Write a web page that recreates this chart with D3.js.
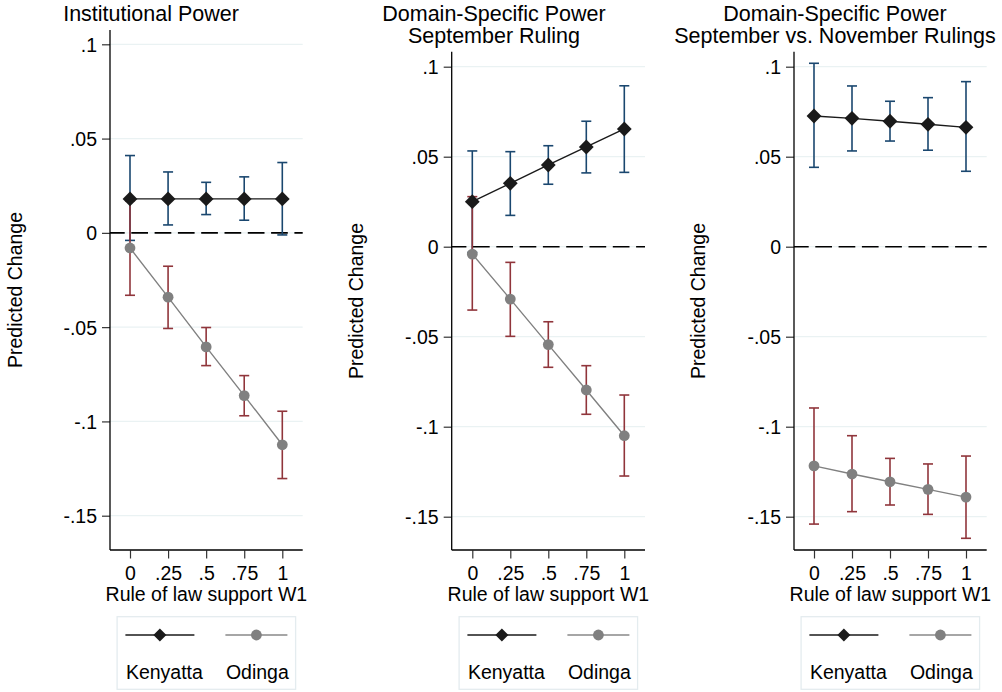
<!DOCTYPE html>
<html>
<head>
<meta charset="utf-8">
<script src="https://cdn.jsdelivr.net/npm/d3@7/dist/d3.min.js"></script>
<style>
  html, body { margin: 0; padding: 0; background: #fff; }
  svg { display: block; font-family: "Liberation Sans", Arial, Helvetica, sans-serif; }
</style>
</head>
<body>
<svg id="chart" width="1002" height="692"></svg>
<script>
// ---------------- DATA ----------------
const xVals = [0, 0.25, 0.5, 0.75, 1];
const xTickLabels = ["0", ".25", ".5", ".75", "1"];
const yTicks = [-0.15, -0.1, -0.05, 0, 0.05, 0.1];
const yTickLabels = ["-.15", "-.1", "-.05", "0", ".05", ".1"];
const xAxisTitle = "Rule of law support W1";
const yAxisTitle = "Predicted Change";
const seriesNames = ["Kenyatta", "Odinga"];
const panelTitles = [
  ["Institutional Power"],
  ["Domain-Specific Power", "September Ruling"],
  ["Domain-Specific Power", "September vs. November Rulings"]
];

// Panel 1: Institutional Power
const kenyattaEst1 = [0.018, 0.018, 0.018, 0.018, 0.018];
const kenyattaLo1  = [-0.004, 0.0042, 0.0097, 0.0067, -0.0011];
const kenyattaHi1  = [0.041, 0.0323, 0.0268, 0.0297, 0.0373];
const odingaEst1   = [-0.008, -0.0341, -0.0605, -0.0863, -0.1124];
const odingaLo1    = [-0.0331, -0.0507, -0.0704, -0.0970, -0.1303];
const odingaHi1    = [0.017, -0.0177, -0.0502, -0.0757, -0.0946];

// Panel 2: Domain-Specific Power, September Ruling
const kenyattaEst2 = [0.025, 0.0352, 0.0454, 0.0554, 0.0654];
const kenyattaLo2  = [-0.0032, 0.0174, 0.0347, 0.041, 0.0413];
const kenyattaHi2  = [0.0532, 0.0528, 0.0561, 0.0697, 0.0894];
const odingaEst2   = [-0.0041, -0.0291, -0.0544, -0.0796, -0.105];
const odingaLo2    = [-0.0352, -0.0498, -0.067, -0.0931, -0.1274];
const odingaHi2    = [0.0278, -0.0087, -0.0417, -0.0661, -0.0824];

// Panel 3: Domain-Specific Power, September vs. November Rulings
const kenyattaEst3 = [0.0726, 0.0713, 0.0697, 0.068, 0.0663];
const kenyattaLo3  = [0.0441, 0.0532, 0.0587, 0.0536, 0.0419];
const kenyattaHi3  = [0.1019, 0.0893, 0.0808, 0.0828, 0.0917];
const odingaEst3   = [-0.1218, -0.1263, -0.1306, -0.1348, -0.1391];
const odingaLo3    = [-0.1541, -0.1472, -0.1435, -0.1487, -0.162];
const odingaHi3    = [-0.0896, -0.105, -0.1176, -0.1207, -0.1163];

// ---------------- LAYOUT ----------------
const layouts = [
  {left: 110, right: 302.7, top: 30, bottom: 550, x0: 130, x1: 282.3, yHi: 44.3, yLo: 515.7,
   titleX: 151, titleY: [20.7], yTitleX: 22, yTitleY: 290},
  {left: 451.7, right: 645, top: 51.7, bottom: 550, x0: 472.3, x1: 624.3, yHi: 66.7, yLo: 516.7,
   titleX: 494, titleY: [20.7, 43], yTitleX: 363.3, yTitleY: 301},
  {left: 794, right: 986.7, top: 51.7, bottom: 550, x0: 814, x1: 966, yHi: 66.7, yLo: 516.7,
   titleX: 835, titleY: [20.7, 43], yTitleX: 705, yTitleY: 301}
];

const panelData = [
  {k: [kenyattaEst1, kenyattaLo1, kenyattaHi1], o: [odingaEst1, odingaLo1, odingaHi1]},
  {k: [kenyattaEst2, kenyattaLo2, kenyattaHi2], o: [odingaEst2, odingaLo2, odingaHi2]},
  {k: [kenyattaEst3, kenyattaLo3, kenyattaHi3], o: [odingaEst3, odingaLo3, odingaHi3]}
];

const C = {
  kLine: "#1a1a1a", kCI: "#1a476f",
  oLine: "#808080", oCI: "#90353b",
  grid: "#eaf2f3", axis: "#000", tick: "#333", text: "#000", legendBorder: "#e4ecef"
};
const FS = 19.5, TFS = 21.5;

const svg = d3.select("#chart");

function diamondPath(cx, cy, h) {
  return `M${cx},${cy - h}L${cx + h},${cy}L${cx},${cy + h}L${cx - h},${cy}Z`;
}

panelData.forEach((pd, i) => {
  const L = layouts[i];
  const g = svg.append("g");
  const x = d3.scaleLinear().domain([0, 1]).range([L.x0, L.x1]);
  const y = d3.scaleLinear().domain([-0.15, 0.1]).range([L.yLo, L.yHi]);

  // gridlines
  g.selectAll(".grid").data(yTicks).enter().append("line")
    .attr("x1", L.left).attr("x2", L.right)
    .attr("y1", d => y(d)).attr("y2", d => y(d))
    .attr("stroke", C.grid).attr("stroke-width", 1.3);

  // zero dashed line
  g.append("line")
    .attr("x1", L.left).attr("x2", L.right)
    .attr("y1", y(0)).attr("y2", y(0))
    .attr("stroke", "#000").attr("stroke-width", 1.6)
    .attr("stroke-dasharray", "16.7,6.6").attr("stroke-dashoffset", 2);

  // y axis
  const yAxis = d3.axisLeft(y).tickValues(yTicks).tickSize(8).tickPadding(5)
    .tickFormat((d, j) => yTickLabels[j]);
  const ya = g.append("g").attr("transform", `translate(${L.left},0)`).call(yAxis);
  ya.select(".domain").remove();
  ya.selectAll(".tick line").attr("stroke", C.tick).attr("stroke-width", 1.2);
  ya.selectAll(".tick text").attr("font-size", FS).attr("fill", C.text)
    .attr("font-family", "Liberation Sans, Arial, sans-serif").attr("dy", "0.36em");
  g.append("line").attr("x1", L.left).attr("x2", L.left).attr("y1", L.top).attr("y2", L.bottom)
    .attr("stroke", C.axis).attr("stroke-width", 1.3);

  // x axis
  const xAxis = d3.axisBottom(x).tickValues(xVals).tickSize(8).tickPadding(7)
    .tickFormat((d, j) => xTickLabels[j]);
  const xa = g.append("g").attr("transform", `translate(0,${L.bottom + 0.5})`).call(xAxis);
  xa.select(".domain").remove();
  xa.selectAll(".tick line").attr("stroke", C.tick).attr("stroke-width", 1.2);
  xa.selectAll(".tick text").attr("font-size", FS).attr("fill", C.text)
    .attr("font-family", "Liberation Sans, Arial, sans-serif").attr("dy", null).attr("y", 29);
  g.append("line").attr("x1", L.left).attr("x2", L.right).attr("y1", L.bottom).attr("y2", L.bottom)
    .attr("stroke", C.axis).attr("stroke-width", 1.3);

  // axis titles
  g.append("text").attr("x", (L.left + L.right) / 2).attr("y", 601)
    .attr("text-anchor", "middle").attr("font-size", FS).text(xAxisTitle);
  g.append("text").attr("transform", `translate(${L.yTitleX},${L.yTitleY}) rotate(-90)`)
    .attr("text-anchor", "middle").attr("font-size", FS).text(yAxisTitle);

  // panel title
  panelTitles[i].forEach((t, j) => {
    g.append("text").attr("x", L.titleX).attr("y", L.titleY[j])
      .attr("text-anchor", "middle").attr("font-size", TFS).text(t);
  });

  const capW = 5;
  function drawCI(arr, color) {
    const [est, lo, hi] = arr;
    const rows = xVals.map((xv, j) => ({x: xv, lo: lo[j], hi: hi[j]}));
    const ci = g.append("g").attr("stroke", color).attr("stroke-width", 1.6).attr("fill", "none");
    ci.selectAll(".v").data(rows).enter().append("line")
      .attr("x1", d => x(d.x)).attr("x2", d => x(d.x))
      .attr("y1", d => y(d.lo)).attr("y2", d => y(d.hi));
    ci.selectAll(".t").data(rows).enter().append("line")
      .attr("x1", d => x(d.x) - capW).attr("x2", d => x(d.x) + capW)
      .attr("y1", d => y(d.hi)).attr("y2", d => y(d.hi));
    ci.selectAll(".b").data(rows).enter().append("line")
      .attr("x1", d => x(d.x) - capW).attr("x2", d => x(d.x) + capW)
      .attr("y1", d => y(d.lo)).attr("y2", d => y(d.lo));
  }
  drawCI(pd.k, C.kCI);
  drawCI(pd.o, C.oCI);

  const line = d3.line().x(d => x(d.x)).y(d => y(d.v));
  const kRows = xVals.map((xv, j) => ({x: xv, v: pd.k[0][j]}));
  const oRows = xVals.map((xv, j) => ({x: xv, v: pd.o[0][j]}));

  g.append("path").datum(kRows).attr("d", line).attr("fill", "none")
    .attr("stroke", C.kLine).attr("stroke-width", 1.4);
  g.selectAll(".kd").data(kRows).enter().append("path")
    .attr("d", d => diamondPath(x(d.x), y(d.v), 7.4)).attr("fill", C.kLine);

  g.append("path").datum(oRows).attr("d", line).attr("fill", "none")
    .attr("stroke", C.oLine).attr("stroke-width", 1.4);
  g.selectAll(".oc").data(oRows).enter().append("circle")
    .attr("cx", d => x(d.x)).attr("cy", d => y(d.v)).attr("r", 5.4).attr("fill", C.oLine);

  // legend
  const cx = (L.left + L.right) / 2;
  const bw = 178.5, bx = cx - bw / 2, by = 616.7, bh = 72.6;
  const lg = g.append("g");
  lg.append("rect").attr("x", bx).attr("y", by).attr("width", bw).attr("height", bh)
    .attr("fill", "#fff").attr("stroke", C.legendBorder).attr("stroke-width", 1.3);
  const symY = 635;
  const items = [
    {name: seriesNames[0], x: bx + 8.3, len: 69, color: C.kLine, sym: "d"},
    {name: seriesNames[1], x: bx + 108.3, len: 62, color: "#888", sym: "c"}
  ];
  items.forEach(it => {
    lg.append("line").attr("x1", it.x).attr("x2", it.x + it.len).attr("y1", symY).attr("y2", symY)
      .attr("stroke", it.color).attr("stroke-width", 1.6);
    if (it.sym === "d") {
      lg.append("path").attr("d", diamondPath(it.x + it.len / 2, symY, 6.5)).attr("fill", C.kLine);
    } else {
      lg.append("circle").attr("cx", it.x + it.len / 2).attr("cy", symY).attr("r", 5.4).attr("fill", C.oLine);
    }
    lg.append("text").attr("x", it.x + 0.5).attr("y", 678.7).attr("font-size", FS).text(it.name);
  });
});
</script>
</body>
</html>
